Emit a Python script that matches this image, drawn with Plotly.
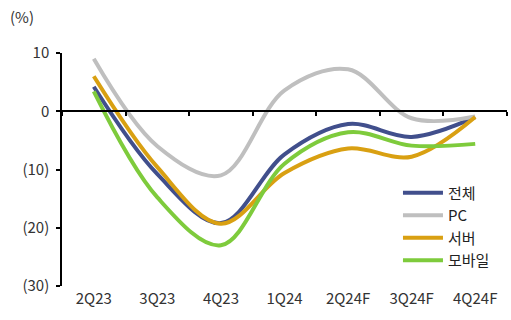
import plotly.graph_objects as go

# Quarterly YoY growth (%) by segment
quarters = ["2Q23", "3Q23", "4Q23", "1Q24", "2Q24F", "3Q24F", "4Q24F"]
total = [4.2, -10.8, -19.2, -7.4, -2.2, -4.4, -1.0]
pc = [9.0, -6.0, -11.0, 3.6, 7.2, -1.2, -0.9]
server = [6.0, -9.6, -19.3, -10.6, -6.4, -7.8, -1.0]
mobile = [3.4, -14.8, -23.0, -9.0, -3.6, -5.9, -5.6]

y_ticks = [10, 0, -10, -20, -30]
y_tick_text = ["10", "0", "(10)", "(20)", "(30)"]

series = [
    ("전체", total, "#414f8c"),
    ("PC", pc, "#bfbfbf"),
    ("서버", server, "#d9a012"),
    ("모바일", mobile, "#7ecb3c"),
]

FONT = "Noto Sans CJK KR"
TXT = "#333333"
fig = go.Figure()
for name, vals, color in series:
    fig.add_trace(go.Scatter(
        x=quarters, y=vals, name=name, mode="lines",
        line=dict(color=color, width=4, shape="spline", smoothing=1.0),
    ))

# helper trace so the zero-line axis has its categories
fig.add_trace(go.Scatter(x=quarters, y=[None] * len(quarters), xaxis="x2",
                         showlegend=False, hoverinfo="skip"))

y_min, y_max = -30, 10
zero_pos = (0 - y_min) / (y_max - y_min)

fig.update_layout(
    width=511, height=320,
    margin=dict(l=62, r=4, t=53, b=34),
    paper_bgcolor="white", plot_bgcolor="white",
    font=dict(family=FONT, size=15, color=TXT),
    xaxis=dict(
        type="category", categoryarray=quarters, range=[-0.5, 6.5],
        showline=False, ticks="", showgrid=False, zeroline=False,
        tickfont=dict(size=15, color=TXT), ticklabelstandoff=2,
    ),
    xaxis2=dict(
        type="category", categoryarray=quarters, range=[-0.5, 6.5],
        overlaying="x", anchor="free", position=zero_pos, side="bottom",
        showline=True, linecolor="black", linewidth=1.5,
        ticks="outside", tickson="boundaries", ticklen=4, tickcolor="black",
        tickwidth=1.5, showticklabels=False, showgrid=False, zeroline=False,
    ),
    yaxis=dict(
        range=[y_min, y_max], tickvals=y_ticks, ticktext=y_tick_text,
        showline=True, linecolor="black", linewidth=1.5,
        ticks="outside", ticklen=4, tickcolor="black", tickwidth=1.5,
        showgrid=False, zeroline=False, ticklabelstandoff=4,
        tickfont=dict(size=15, color=TXT),
    ),
    legend=dict(
        x=0.755, y=0.47, xanchor="left", yanchor="top",
        bgcolor="rgba(0,0,0,0)", font=dict(size=15, color="#222222"),
        tracegroupgap=0, itemwidth=40,
    ),
    annotations=[dict(
        text="(%)", xref="paper", yref="paper", x=-0.122, y=1.155,
        xanchor="left", yanchor="middle", showarrow=False,
        font=dict(size=15, color=TXT),
    )],
)

fig.write_html("out.html")
